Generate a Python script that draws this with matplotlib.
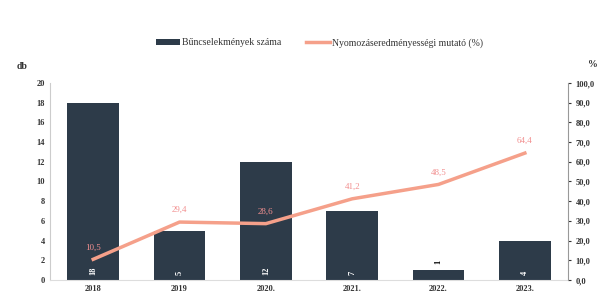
import matplotlib
matplotlib.use('Agg')
import matplotlib.pyplot as plt
from matplotlib.ticker import FuncFormatter

# data
years = ['2018', '2019', '2020.', '2021.', '2022.', '2023.']
cases = [18, 5, 12, 7, 1, 4]
rate = [10.5, 29.4, 28.6, 41.2, 48.5, 64.4]

bar_color = '#2d3b49'
line_color = '#f5a08a'
label_color = '#f29090'

plt.rcParams['font.family'] = ['Liberation Serif', 'DejaVu Serif']

fig = plt.figure(figsize=(6.03, 3.05), dpi=100)
ax = fig.add_axes([0.083, 0.082, 0.859, 0.646])
x = list(range(len(years)))

bars = ax.bar(x, cases, width=0.6, color=bar_color, label='Bűncselekmények száma', zorder=2)
ax.set_ylim(0, 20)
ax.set_yticks(range(0, 21, 2))
ax.set_xlim(-0.5, 5.5)
ax.set_xticks(x)
ax.set_xticklabels(years, fontsize=6, color='#333333', fontweight='bold')
ax.tick_params(axis='y', labelsize=6, colors='#333333', length=0)
for t in ax.get_yticklabels():
    t.set_fontweight('bold')
ax.tick_params(axis='x', length=0)
for s in ['top', 'right']:
    ax.spines[s].set_visible(False)
ax.spines['left'].set_color('#cccccc')
ax.spines['bottom'].set_color('#dddddd')

# bar labels
for xi, v in zip(x, cases):
    if v >= 3:
        ax.text(xi, 0.5, str(v), rotation=90, ha='center', va='bottom', fontsize=6, color='white',
                fontweight='bold', zorder=4)
    else:
        ax.text(xi, v + 0.6, str(v), rotation=90, ha='center', va='bottom', fontsize=6, color='black',
                fontweight='bold', zorder=4)

ax2 = ax.twinx()
ax2.plot(x, rate, color=line_color, lw=2.5, label='Nyomozáseredményességi mutató (%)', zorder=3)
ax2.set_ylim(0, 100)
ax2.set_yticks(range(0, 101, 10))
ax2.yaxis.set_major_formatter(FuncFormatter(lambda v, p: f'{v:.1f}'.replace('.', ',')))
ax2.tick_params(axis='y', labelsize=6, colors='#333333', length=2)
for t in ax2.get_yticklabels():
    t.set_fontweight('bold')
for s in ['top', 'left', 'bottom']:
    ax2.spines[s].set_visible(False)
ax2.spines['right'].set_color('#999999')
for xi, v in zip(x, rate):
    ax2.text(xi, v + 4, f'{v:.1f}'.replace('.', ','), ha='center', va='bottom', fontsize=6.5,
             color=label_color)

fig.text(0.027, 0.775, 'db', fontsize=7, color='#333333', fontweight='bold')
fig.text(0.975, 0.78, '%', fontsize=7, color='#333333', fontweight='bold')

h1, l1 = ax.get_legend_handles_labels()
h2, l2 = ax2.get_legend_handles_labels()
fig.legend(h1 + h2, l1 + l2, loc='center', bbox_to_anchor=(0.53, 0.86), ncol=2, frameon=False,
           fontsize=7, handlelength=2.5, handleheight=0.6, columnspacing=2.5, handletextpad=0.2,
           labelcolor='#333333')

fig.savefig('out.png', dpi=100)
